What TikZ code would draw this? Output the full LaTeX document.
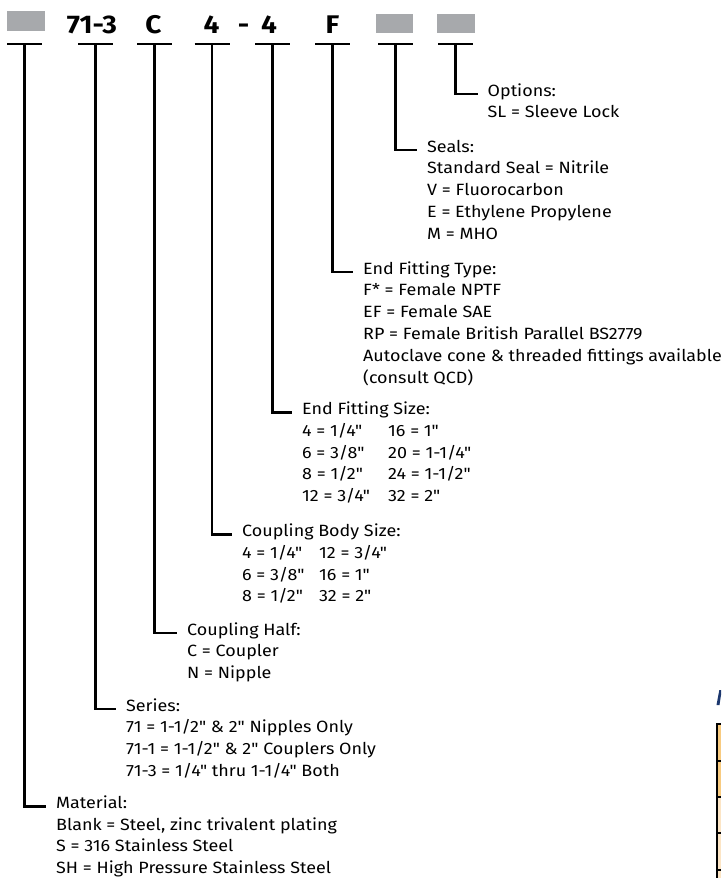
\documentclass[tikz,border=0pt]{standalone}
\usepackage{fontspec}
\setmainfont{Fira Sans}[Ligatures=TeXOff, FakeStretch=1.1]
\definecolor{hdrgray}{RGB}{167,169,172}
\definecolor{tblorange}{RGB}{248,203,128}
\definecolor{tbllight}{RGB}{252,229,197}
\definecolor{navyblue}{RGB}{28,55,110}
\begin{document}
\begin{tikzpicture}[x=1pt,y=-1pt,
  txt/.style={anchor=base west, inner sep=0pt, font=\fontsize{16.3}{20}\selectfont},
  hdr/.style={anchor=base, inner sep=0pt, font=\bfseries\fontsize{25.5}{28}\selectfont},
  gbox/.style={fill=hdrgray, draw=none, inner sep=0pt, anchor=north west},
  conn/.style={line width=2.4pt, line join=miter}]
\useasboundingbox (0,0) rectangle (721,878);

% header
\node[gbox, minimum width=38pt, minimum height=19.7pt] (h1) at (7,11) {};
\node[hdr] (h2) at (92,33) {71-3};
\node[hdr] (h3) at (153.5,33) {C};
\node[hdr] (h4) at (211.5,33) {4};
\node[hdr] (hd) at (243.5,33) {-};
\node[hdr] (h5) at (269,33) {4};
\node[hdr] (h6) at (332.5,33) {F};
\node[gbox, minimum width=37pt, minimum height=19pt] (h7) at (376,13.3) {};
\node[gbox, minimum width=38pt, minimum height=19pt] (h8) at (437,13.3) {};

% T bar coordinates
\coordinate (t1) at (24.5,44);
\coordinate (t2) at (95.5,44);
\coordinate (t3) at (154.5,44);
\coordinate (t4) at (212,44);
\coordinate (t5) at (272.5,44);
\coordinate (t6) at (332.5,44);
\coordinate (t7) at (395.5,44);
\coordinate (t8) at (455.5,44);
\foreach \t in {t1,t2,t3,t4,t5,t6,t7,t8}
  \draw[conn] ([xshift=-17.5pt]\t) -- ([xshift=17.5pt]\t);

% Options
\foreach \s [count=\i] in {Options:, SL = Sleeve Lock}
  \node[txt] (opt\i) at (487.5,{96+(\i-1)*21.8}) {\s};
% Seals
\foreach \s [count=\i] in {Seals:, Standard Seal = Nitrile, V = Fluorocarbon, E = Ethylene Propylene, M = MHO}
  \node[txt] (seal\i) at (427,{152+(\i-1)*21.8}) {\s};
% End fitting type
\foreach \s [count=\i] in {End Fitting Type:, F* = Female NPTF, EF = Female SAE, RP = Female British Parallel BS2779, Autoclave cone \& threaded fittings available, (consult QCD)}
  \node[txt] (eft\i) at (363,{274+(\i-1)*21.8}) {\s};
% End fitting size
\node[txt] (efs1) at (302,414.5) {End Fitting Size:};
\node[txt] (efs2) at (302,436.3) {4 = 1/4"};
\node[txt] (efs3) at (302,458.1) {6 = 3/8"};
\node[txt] (efs4) at (302,479.9) {8 = 1/2"};
\node[txt] (efs5) at (302,501.7) {12 = 3/4"};
\node[txt] (efs6) at (388,436.3) {16 = 1"};
\node[txt] (efs7) at (388,458.1) {20 = 1-1/4"};
\node[txt] (efs8) at (388,479.9) {24 = 1-1/2"};
\node[txt] (efs9) at (388,501.7) {32 = 2"};
% Coupling body size
\node[txt] (cbs1) at (242,536.5) {Coupling Body Size:};
\node[txt] (cbs2) at (242,558.3) {4 = 1/4"};
\node[txt] (cbs3) at (242,580.1) {6 = 3/8"};
\node[txt] (cbs4) at (242,601.9) {8 = 1/2"};
\node[txt] (cbs5) at (319,558.3) {12 = 3/4"};
\node[txt] (cbs6) at (319,580.1) {16 = 1"};
\node[txt] (cbs7) at (319,601.9) {32 = 2"};
% Coupling half
\foreach \s [count=\i] in {Coupling Half:, C = Coupler, N = Nipple}
  \node[txt] (ch\i) at (187,{635+(\i-1)*21.8}) {\s};
% Series
\foreach \s [count=\i] in {Series:, 71 = 1-1/2" \& 2" Nipples Only, 71-1 = 1-1/2" \& 2" Couplers Only, 71-3 = 1/4" thru 1-1/4" Both}
  \node[txt] (ser\i) at (126,{711+(\i-1)*21.8}) {\s};
% Material
\foreach \s [count=\i] in {Material:, {Blank = Steel, zinc trivalent plating}, S = 316 Stainless Steel, SH = High Pressure Stainless Steel}
  \node[txt] (mat\i) at (56,{808.5+(\i-1)*21.6}) {\s};

% L connectors
\draw[conn] (t1) |- ([xshift=-10pt,yshift=2pt]mat1.base west);
\draw[conn] (t2) |- ([xshift=-10pt,yshift=2pt]ser1.base west);
\draw[conn] (t3) |- ([xshift=-10pt,yshift=2pt]ch1.base west);
\draw[conn] (t4) |- ([xshift=-10pt,yshift=2pt]cbs1.base west);
\draw[conn] (t5) |- ([xshift=-10pt,yshift=2pt]efs1.base west);
\draw[conn] (t6) |- ([xshift=-10pt,yshift=2pt]eft1.base west);
\draw[conn] (t7) |- ([xshift=-10pt,yshift=2pt]seal1.base west);
\draw[conn] (t8) |- ([xshift=-10pt,yshift=2pt]opt1.base west);

% cut-off fragment at bottom right
\fill[navyblue] (716.5,705) -- (719.5,705) -- (721,695) -- (721,690) -- (719.3,690) -- cycle;
\fill[tblorange] (718,725) rectangle (721,797);
\fill[tbllight] (718,797) rectangle (721,878);
\draw[line width=2pt] (717,723) -- (717,878);
\foreach \yy in {724,760.5,797,833,870}
  \draw[line width=2pt] (717,\yy) -- (721,\yy);
\end{tikzpicture}
\end{document}
